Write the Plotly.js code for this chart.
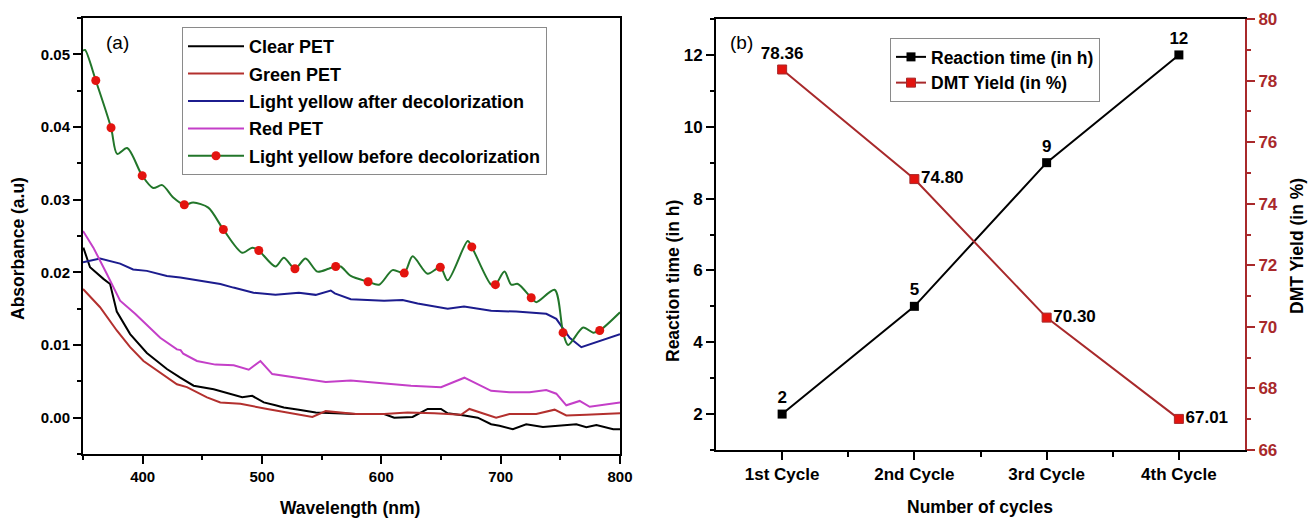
<!DOCTYPE html>
<html>
<head>
<meta charset="utf-8">
<script src="https://cdn.plot.ly/plotly-3.0.1.min.js"></script>
<style>html,body{margin:0;padding:0;background:#fff;}#chart{width:1308px;height:518px;}</style>
</head>
<body>
<div id="chart"></div>
<script>
// ---------- Panel (a): UV-Vis absorbance ----------
const clearX = [350.3,355.9,367.1,372.7,378.3,389.5,403.5,420.3,431.5,442.7,459.5,472.1,483.4,491.8,501.5,511.3,518.3,530.9,545,561.8,578.6,602.3,610.8,626.2,638.8,650,655.6,669.6,680.8,692,699,710.2,721.4,735.4,763.4,771.8,780.2,794.3,800];
const clearY = [0.0234,0.0207,0.0191,0.0184,0.0146,0.0115,0.0089,0.0067,0.0055,0.0044,0.0039,0.0033,0.0028,0.0030,0.0021,0.0017,0.0014,0.0011,0.0007,0.0006,0.0005,0.0005,0.0000,0.0001,0.0012,0.0012,0.0006,0.0003,0.0000,-0.0009,-0.0011,-0.0016,-0.0009,-0.0013,-0.0009,-0.0013,-0.0010,-0.0016,-0.0016];

const greenPetX = [350,364.3,378.3,389.5,400.7,420.3,428.7,437.1,453.9,465.1,481.9,504.4,511.3,532.3,542.2,553.4,578.6,602.3,622,644.4,666.8,673.8,687.8,696.2,707.4,729.8,745.2,755,771.8,800];
const greenPetY = [0.0177,0.0152,0.0120,0.0097,0.0078,0.0055,0.0046,0.0042,0.0028,0.0021,0.0019,0.0012,0.0010,0.0003,0.0001,0.0009,0.0005,0.0005,0.0007,0.0006,0.0004,0.0012,0.0005,0.0000,0.0005,0.0005,0.0011,0.0003,0.0004,0.0006];

const afterX = [350,364.3,381.1,392,403.5,420.3,431.5,448.3,465.1,476,492.9,511.3,530.9,545,557.6,561,574.4,602.3,617.8,630.4,655.6,669.3,692,713,738.2,746.6,757.8,767.6,780.2,800];
const afterY = [0.0214,0.0219,0.0212,0.0204,0.0202,0.0195,0.0193,0.0188,0.0184,0.0179,0.0172,0.0169,0.0172,0.0169,0.0175,0.0171,0.0163,0.0161,0.0162,0.0157,0.0150,0.0153,0.0147,0.0146,0.0143,0.0136,0.0110,0.0097,0.0104,0.0115];

const redPetX = [350,358.7,369.9,381.1,393.7,411.9,414.7,428.7,431.8,434,445.5,460.9,476.3,488.9,498.7,508.6,530.9,553.4,574.4,602.3,624.8,650,669.6,692,707.4,724.2,738.2,746.6,755,766.2,774.6,800];
const redPetY = [0.0257,0.0234,0.0198,0.0161,0.0143,0.0115,0.0110,0.0094,0.0093,0.0088,0.0078,0.0073,0.0072,0.0066,0.0078,0.0060,0.0055,0.0049,0.0051,0.0047,0.0044,0.0042,0.0055,0.0037,0.0035,0.0035,0.0038,0.0033,0.0017,0.0023,0.0015,0.0021];

const beforeX = [350,351.7,360.7,373.5,378.6,387,399.6,408.8,416.4,425.6,434.9,442.4,455,467.6,483.4,491.8,497.3,511.3,518.3,527.6,536.5,546.4,555.9,561.8,566,574.4,588.9,598.1,609.4,619.2,626.2,638.8,649.4,655.6,672.4,675.8,692,695.6,703.2,708.8,714.4,725.6,729.8,745.2,752.3,756.5,769.1,777.5,783,800];
const beforeY = [0.0505,0.0506,0.0464,0.0399,0.0363,0.0371,0.0333,0.0316,0.0320,0.0303,0.0293,0.0296,0.0289,0.0259,0.0227,0.0234,0.0230,0.0208,0.0220,0.0205,0.0219,0.0201,0.0205,0.0208,0.0208,0.0195,0.0187,0.0183,0.0203,0.0199,0.0222,0.0198,0.0207,0.0189,0.0243,0.0235,0.0183,0.0183,0.0201,0.0183,0.0184,0.0165,0.0159,0.0176,0.0117,0.0100,0.0124,0.0117,0.0120,0.0145];

const beforeMarkX = [360.7,373.5,399.6,434.9,467.6,497.3,527.6,561.8,588.9,619.2,649.4,675.8,695.6,725.6,752.3,783.0];
const beforeMarkY = [0.0464,0.0399,0.0333,0.0293,0.0259,0.0230,0.0205,0.0208,0.0187,0.0199,0.0207,0.0235,0.0183,0.0165,0.0117,0.0120];

const seriesNamesA = ["Clear PET","Green PET","Light yellow after decolorization","Red PET","Light yellow before decolorization"];

// ---------- Panel (b): recycling cycles ----------
const cycles = ["1st Cycle","2nd Cycle","3rd Cycle","4th Cycle"];
const reactionTime = [2,5,9,12];
const dmtYield = [78.36,74.80,70.30,67.01];
const seriesNamesB = ["Reaction time (in h)","DMT Yield (in %)"];

// ---------- Styling ----------
const W = 1308, H = 518;
const px = v => v / W;
const py = v => 1 - v / H;
const FONT = "Liberation Sans, Arial, sans-serif";
const DARKRED = "#a8292b";
const cycleIdx = cycles.map((c, i) => i);

const traces = [
  {x: clearX, y: clearY, name: seriesNamesA[0], mode: "lines", line: {color: "#000000", width: 2}, legend: "legend", legendgroup: "a1", xaxis: "x", yaxis: "y"},
  {x: greenPetX, y: greenPetY, name: seriesNamesA[1], mode: "lines", line: {color: "#b3302e", width: 2}, legend: "legend", legendgroup: "a2", xaxis: "x", yaxis: "y"},
  {x: afterX, y: afterY, name: seriesNamesA[2], mode: "lines", line: {color: "#1c1c8e", width: 2}, legend: "legend", legendgroup: "a3", xaxis: "x", yaxis: "y"},
  {x: redPetX, y: redPetY, name: seriesNamesA[3], mode: "lines", line: {color: "#c43fc8", width: 2}, legend: "legend", legendgroup: "a4", xaxis: "x", yaxis: "y"},
  {x: beforeX, y: beforeY, name: seriesNamesA[4], mode: "lines", line: {color: "#22762a", width: 2, shape: "spline", smoothing: 0.8}, showlegend: false, legendgroup: "a5", xaxis: "x", yaxis: "y"},
  {x: beforeMarkX, y: beforeMarkY, name: seriesNamesA[4], mode: "markers", marker: {color: "#e3140f", size: 9, symbol: "circle"}, showlegend: false, legendgroup: "a5", xaxis: "x", yaxis: "y"},
  {x: [null], y: [null], name: seriesNamesA[4], mode: "lines+markers", line: {color: "#22762a", width: 2}, marker: {color: "#e3140f", size: 9}, legend: "legend", legendgroup: "a5", xaxis: "x", yaxis: "y"},

  {x: cycleIdx, y: reactionTime, name: seriesNamesB[0], mode: "lines+markers+text",
   line: {color: "#000000", width: 2}, marker: {color: "#000000", size: 9, symbol: "square"},
   texttemplate: "%{y}", textposition: "top center",
   textfont: {family: FONT, size: 17, color: "#000", weight: "bold"},
   legend: "legend2", xaxis: "x2", yaxis: "y2", cliponaxis: false},
  {x: cycleIdx, y: dmtYield, name: seriesNamesB[1], mode: "lines+markers+text",
   line: {color: DARKRED, width: 2}, marker: {color: "#e3140f", size: 9, symbol: "square", line: {color: DARKRED, width: 1}},
   texttemplate: "%{y:.2f}", textposition: ["top center", "middle right", "middle right", "middle right"],
   textfont: {family: FONT, size: 17, color: "#000", weight: "bold"},
   legend: "legend2", xaxis: "x2", yaxis: "y3", cliponaxis: false}
];

const tickFontA = {family: FONT, size: 15, color: "#000", weight: "bold"};
const tickFontB = {family: FONT, size: 17, color: "#000", weight: "bold"};
const axBase = {
  showgrid: false, zeroline: false, showline: true, linewidth: 2, linecolor: "#000",
  ticks: "outside", ticklen: 8, tickwidth: 2, tickcolor: "#000"
};
const titleFont = {family: FONT, size: 17.5, color: "#000", weight: "bold"};
function ann(text, x, y, angle, font) {
  return {text: text, x: px(x), y: py(y), xref: "paper", yref: "paper", showarrow: false,
          xanchor: "center", yanchor: "middle", textangle: angle || 0, font: font};
}

const layout = {
  width: W, height: H,
  margin: {l: 0, r: 0, t: 0, b: 0},
  paper_bgcolor: "#fff", plot_bgcolor: "#fff",
  font: {family: FONT, color: "#000"},
  xaxis: Object.assign({}, axBase, {
    domain: [px(83), px(620)], range: [350, 800], anchor: "y",
    tick0: 0, dtick: 100, mirror: true, tickfont: tickFontA,
    minor: {dtick: 50, ticklen: 4, tickwidth: 2, tickcolor: "#000", ticks: "outside"}
  }),
  yaxis: Object.assign({}, axBase, {
    domain: [py(454), py(18)], range: [-0.005, 0.055], anchor: "x",
    tick0: 0, dtick: 0.01, tickformat: ".2f", mirror: true, tickfont: tickFontA,
    minor: {dtick: 0.005, ticklen: 4, tickwidth: 2, tickcolor: "#000", ticks: "outside"}
  }),
  xaxis2: Object.assign({}, axBase, {
    domain: [px(716), px(1245)], range: [-0.5, 3.5], anchor: "y2",
    tickmode: "array", tickvals: cycleIdx, ticktext: cycles, mirror: true, tickfont: tickFontB,
    minor: {tickvals: [0.5, 1.5, 2.5], ticklen: 5, tickwidth: 2, tickcolor: "#000", ticks: "outside"}
  }),
  yaxis2: Object.assign({}, axBase, {
    domain: [py(450), py(19)], range: [1, 13], anchor: "x2",
    tick0: 0, dtick: 2, tickfont: tickFontB,
    minor: {dtick: 1, ticklen: 4, tickwidth: 2, tickcolor: "#000", ticks: "outside"}
  }),
  yaxis3: Object.assign({}, axBase, {
    overlaying: "y2", side: "right", anchor: "x2", range: [66, 80],
    tick0: 0, dtick: 2, linecolor: DARKRED, tickcolor: DARKRED,
    tickfont: {family: FONT, size: 17, color: DARKRED, weight: "bold"},
    minor: {dtick: 1, ticklen: 4, tickwidth: 2, tickcolor: DARKRED, ticks: "outside"}
  }),
  legend: {
    x: px(182), y: py(27), xanchor: "left", yanchor: "top", xref: "paper", yref: "paper",
    bgcolor: "#fff", bordercolor: "#8a8a8a", borderwidth: 1,
    font: {family: FONT, size: 18, color: "#000", weight: "bold"},
    itemwidth: 56, traceorder: "grouped", tracegroupgap: 1
  },
  legend2: {
    x: px(890), y: py(38), xanchor: "left", yanchor: "top", xref: "paper", yref: "paper",
    bgcolor: "#fff", bordercolor: "#8a8a8a", borderwidth: 1,
    font: {family: FONT, size: 17.5, color: "#000", weight: "bold"},
    itemwidth: 30
  },
  annotations: [
    ann("(a)", 117, 42, 0, {family: FONT, size: 19, color: "#000"}),
    ann("(b)", 741, 43, 0, {family: FONT, size: 19, color: "#000"}),
    ann("Absorbance (a.u)", 18, 249, -90, titleFont),
    ann("Wavelength (nm)", 350, 508, 0, titleFont),
    ann("Number of cycles", 980, 507, 0, titleFont),
    ann("Reaction time (in h)", 673, 281, -90, titleFont),
    ann("DMT Yield (in %)", 1297, 246, -90, titleFont)
  ]
};

Plotly.newPlot("chart", traces, layout, {staticPlot: true, displayModeBar: false});
</script>
</body>
</html>
